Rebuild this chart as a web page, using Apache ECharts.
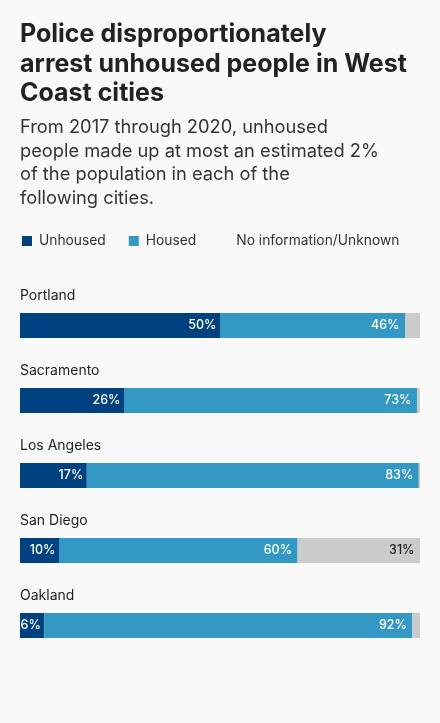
<!DOCTYPE html>
<html><head><meta charset="utf-8">
<script src="https://cdn.jsdelivr.net/npm/echarts@6/dist/echarts.min.js"></script>
<style>html,body{margin:0;padding:0;background:#f9f9f9}#c{width:440px;height:723px}</style>
</head><body><div id="c"></div>
<script>
const cities = ['Portland', 'Sacramento', 'Los Angeles', 'San Diego', 'Oakland'];
const unhoused = [50, 26, 16.7, 9.75, 6.1];
const housed = [46.25, 73.25, 83, 59.65, 92];
const unknown = [3.75, 0.75, 0.3, 30.6, 1.9];
const seriesNames = ['Unhoused', 'Housed', 'No information/Unknown'];
const titleText = 'Police disproportionately\narrest unhoused people in West\nCoast cities';
const subText = 'From 2017 through 2020, unhoused\npeople made up at most an estimated 2%\nof the population in each of the\nfollowing cities.';

const FONT = 'Inter';
const chart = echarts.init(document.getElementById('c'));
function lbl(color, minVal, dist) {
  return {
    show: true, position: 'insideRight', distance: dist,
    color: color, fontFamily: FONT, fontSize: 12.5, fontWeight: 500,
    formatter: p => p.value >= minVal ? Math.round(p.value) + '%' : ''
  };
}
chart.setOption({
  backgroundColor: '#f9f9f9',
  animation: false,
  title: [
    { text: titleText, left: 20, top: 20, padding: 0,
      textStyle: { fontFamily: FONT, fontSize: 25, fontWeight: 700, color: '#222', lineHeight: 29.5 } },
    { text: subText, left: 20, top: 116, padding: 0,
      textStyle: { fontFamily: FONT, fontSize: 18.3, fontWeight: 400, color: '#333', lineHeight: 23.6 } }
  ],
  legend: {
    left: 22, top: 234, padding: 0, itemWidth: 10, itemHeight: 10, itemGap: 23, icon: 'rect',
    selectedMode: false,
    textStyle: { fontFamily: FONT, fontSize: 13.8, color: '#333', padding: [0, 0, 0, 2] },
    data: [
      { name: seriesNames[0] },
      { name: seriesNames[1] },
      { name: seriesNames[2], itemStyle: { opacity: 0 } }
    ]
  },
  grid: { left: 20, right: 20, top: 288, height: 375 },
  xAxis: { type: 'value', min: 0, max: 100, show: false },
  yAxis: {
    type: 'category', data: cities, inverse: true,
    axisLine: { show: false }, axisTick: { show: false }, splitLine: { show: false },
    axisLabel: {
      inside: true, margin: 0, interval: 0, align: 'left', verticalAlign: 'bottom',
      padding: [0, 0, 23, 0], fontFamily: FONT, fontSize: 14, color: '#222'
    }
  },
  series: [
    { name: seriesNames[0], type: 'bar', stack: 'a', barWidth: 25, data: unhoused,
      itemStyle: { color: '#00427f' }, label: lbl('#fff', 3, 3.5) },
    { name: seriesNames[1], type: 'bar', stack: 'a', barWidth: 25, data: housed,
      itemStyle: { color: '#3399c4' }, label: lbl('#fff', 3, 5.5) },
    { name: seriesNames[2], type: 'bar', stack: 'a', barWidth: 25, data: unknown,
      itemStyle: { color: '#cbcbcb' }, label: lbl('#222', 10, 5.5) }
  ]
});
</script></body></html>
